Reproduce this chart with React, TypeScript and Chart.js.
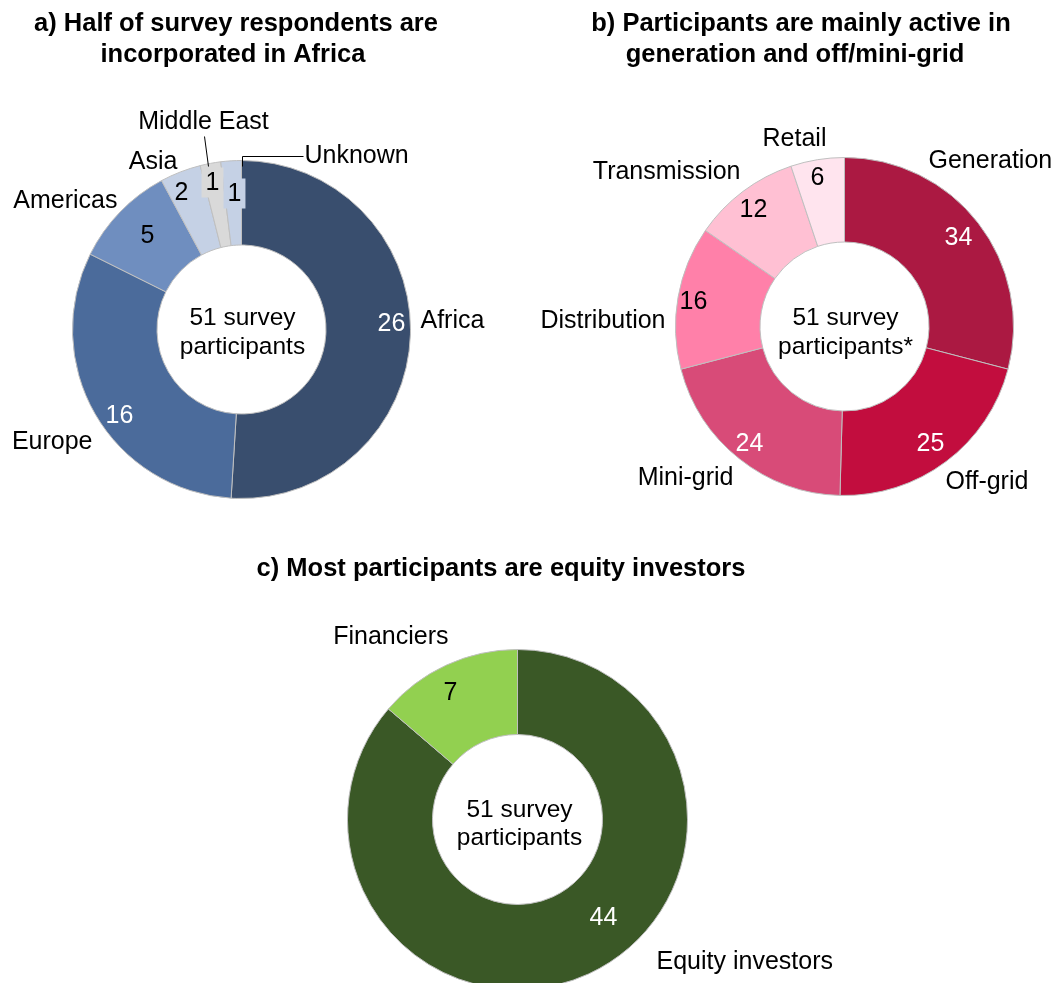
import React, { useEffect, useRef } from "react";
import { Chart, registerables } from "chart.js";

Chart.register(...registerables);

const FONT = '"Liberation Sans", Arial, Helvetica, sans-serif';
const SURVEY_TOTAL = 51;

// ---- Data ----
const regionCategories = ["Africa", "Europe", "Americas", "Asia", "Middle East", "Unknown"];
const regionValues = [26, 16, 5, 2, 1, 1];
const regionColors = ["#394E6E", "#4B6B9B", "#6F8EBF", "#C5D1E5", "#D9D9D9", "#C5D1E5"];
const regionValueColors = ["#FFFFFF", "#FFFFFF", "#000000", "#000000", "#000000", "#000000"];

const activityCategories = ["Generation", "Off-grid", "Mini-grid", "Distribution", "Transmission", "Retail"];
const activityValues = [34, 25, 24, 16, 12, 6];
const activityColors = ["#AB1942", "#C20D3E", "#D84B78", "#FF80A9", "#FFC0D3", "#FFE4EE"];
const activityValueColors = ["#FFFFFF", "#FFFFFF", "#FFFFFF", "#000000", "#000000", "#000000"];

const investorCategories = ["Equity investors", "Financiers"];
const investorValues = [44, 7];
const investorColors = ["#3A5826", "#92D050"];
const investorValueColors = ["#FFFFFF", "#000000"];

const titleA = ["a) Half of survey respondents are", "incorporated in Africa"];
const titleB = ["b) Participants are mainly active in", "generation and off/mini-grid"];
const titleC = ["c) Most participants are equity investors"];

const centerA = [`${SURVEY_TOTAL} survey`, "participants"];
const centerB = [`${SURVEY_TOTAL} survey`, "participants*"];
const centerC = [`${SURVEY_TOTAL} survey`, "participants"];

// ---- Layout (label placement relative to doughnut centre) ----
type CatPos = { dx: number; dy: number; align: CanvasTextAlign };
type ValPos = { dx: number; dy: number; box?: boolean };
type Leader = { pts: [number, number][] };

interface PanelSpec {
  left: number;
  top: number;
  w: number;
  h: number;
  padding: { left: number; right: number; top: number; bottom: number };
  categories: string[];
  values: number[];
  colors: string[];
  valueColors: string[];
  title: string[];
  titleX: number[];
  titleY: number;
  center: string[];
  centerPos: [number, number][];
  catPos: CatPos[];
  valPos: ValPos[];
  leaders: Leader[];
}

const panels: PanelSpec[] = [
  {
    left: 0,
    top: 0,
    w: 520,
    h: 540,
    padding: { left: 72, right: 109, top: 160, bottom: 41 },
    categories: regionCategories,
    values: regionValues,
    colors: regionColors,
    valueColors: regionValueColors,
    title: titleA,
    titleX: [236, 233],
    titleY: 31,
    center: centerA,
    centerPos: [[1, -11], [1, 18]],
    catPos: [
      { dx: 179, dy: -8, align: "left" },
      { dx: -149, dy: 113, align: "right" },
      { dx: -124, dy: -128, align: "right" },
      { dx: -64, dy: -167, align: "right" },
      { dx: -38, dy: -207, align: "center" },
      { dx: 63, dy: -173, align: "left" },
    ],
    valPos: [
      { dx: 150, dy: -6 },
      { dx: -122, dy: 86 },
      { dx: -94, dy: -94 },
      { dx: -60, dy: -137 },
      { dx: -29, dy: -147, box: true },
      { dx: -7, dy: -136, box: true },
    ],
    leaders: [
      { pts: [[-38, -194], [-34, -164]] },
      { pts: [[0, -164], [0, -174], [61, -174]] },
    ],
  },
  {
    left: 520,
    top: 0,
    w: 537,
    h: 540,
    padding: { left: 155, right: 43, top: 157, bottom: 44 },
    categories: activityCategories,
    values: activityValues,
    colors: activityColors,
    valueColors: activityValueColors,
    title: titleB,
    titleX: [801 - 520, 795 - 520],
    titleY: 31,
    center: centerB,
    centerPos: [[1, -8], [1, 21]],
    catPos: [
      { dx: 84, dy: -165, align: "left" },
      { dx: 101, dy: 156, align: "left" },
      { dx: -111, dy: 152, align: "right" },
      { dx: -179, dy: -5, align: "right" },
      { dx: -104, dy: -154, align: "right" },
      { dx: -50, dy: -187, align: "center" },
    ],
    valPos: [
      { dx: 114, dy: -89 },
      { dx: 86, dy: 117 },
      { dx: -95, dy: 117 },
      { dx: -151, dy: -25 },
      { dx: -91, dy: -117 },
      { dx: -27, dy: -149 },
    ],
    leaders: [],
  },
  {
    left: 0,
    top: 540,
    w: 1057,
    h: 460,
    padding: { left: 347, right: 369, top: 109, bottom: 10 },
    categories: investorCategories,
    values: investorValues,
    colors: investorColors,
    valueColors: investorValueColors,
    title: titleC,
    titleX: [501],
    titleY: 36,
    center: centerC,
    centerPos: [[2, -9], [2, 19]],
    catPos: [
      { dx: 139, dy: 143, align: "left" },
      { dx: -69, dy: -182, align: "right" },
    ],
    valPos: [
      { dx: 86, dy: 98 },
      { dx: -67, dy: -127 },
    ],
    leaders: [],
  },
];

function makeLabelPlugin(spec: PanelSpec) {
  return {
    id: "doughnutLabels",
    afterDatasetsDraw(chart: any) {
      const arcs = chart.getDatasetMeta(0).data as any[];
      if (!arcs.length) return;
      const cx = arcs[0].x;
      const cy = arcs[0].y;
      const ctx: CanvasRenderingContext2D = chart.ctx;
      ctx.save();

      // Title
      ctx.fillStyle = "#000";
      ctx.font = `bold 25.5px ${FONT}`;
      ctx.textAlign = "center";
      ctx.textBaseline = "alphabetic";
      spec.title.forEach((line, i) => {
        ctx.fillText(line, spec.titleX[i], spec.titleY + i * 31);
      });

      // Leader lines
      ctx.strokeStyle = "#000";
      ctx.lineWidth = 1;
      spec.leaders.forEach((ld) => {
        ctx.beginPath();
        ld.pts.forEach(([x, y], i) => {
          const px = Math.round(cx + x) + 0.5;
          const py = Math.round(cy + y) + 0.5;
          if (i === 0) ctx.moveTo(px, py);
          else ctx.lineTo(px, py);
        });
        ctx.stroke();
      });

      ctx.textBaseline = "middle";
      ctx.font = `25px ${FONT}`;

      // Category labels
      spec.categories.forEach((cat, i) => {
        const p = spec.catPos[i];
        ctx.textAlign = p.align;
        ctx.fillStyle = "#000";
        ctx.fillText(cat, cx + p.dx, cy + p.dy);
      });

      // Value labels
      ctx.textAlign = "center";
      spec.values.forEach((v, i) => {
        const p = spec.valPos[i];
        const txt = String(v);
        const x = cx + p.dx;
        const y = cy + p.dy;
        if (p.box) {
          const w = ctx.measureText(txt).width + 8;
          ctx.fillStyle = spec.colors[i];
          ctx.fillRect(x - w / 2, y - 15, w, 30);
        }
        ctx.fillStyle = spec.valueColors[i];
        ctx.fillText(txt, x, y + 1);
      });

      // Centre text
      ctx.font = `24.5px ${FONT}`;
      ctx.fillStyle = "#000";
      spec.center.forEach((line, i) => {
        const [dx, dy] = spec.centerPos[i];
        ctx.fillText(line, cx + dx, cy + dy);
      });

      ctx.restore();
    },
  };
}

function DoughnutPanel({ spec }: { spec: PanelSpec }) {
  const ref = useRef<HTMLCanvasElement>(null);
  useEffect(() => {
    if (!ref.current) return;
    const chart = new Chart(ref.current, {
      type: "doughnut",
      data: {
        labels: spec.categories,
        datasets: [
          {
            data: spec.values,
            backgroundColor: spec.colors,
            borderColor: "#BFBFBF",
            borderWidth: 1,
          },
        ],
      },
      options: {
        responsive: false,
        animation: false,
        cutout: "50%",
        events: [],
        layout: { padding: spec.padding },
        plugins: {
          legend: { display: false },
          tooltip: { enabled: false },
          title: { display: false },
        },
      },
      plugins: [makeLabelPlugin(spec)],
    });
    return () => chart.destroy();
  }, [spec]);
  return (
    <canvas
      ref={ref}
      width={spec.w}
      height={spec.h}
      style={{ position: "absolute", left: spec.left, top: spec.top, width: spec.w, height: spec.h }}
    />
  );
}

export default function App() {
  return (
    <div
      style={{
        position: "fixed",
        left: 0,
        top: 0,
        width: 1057,
        height: 983,
        overflow: "hidden",
        background: "#FFFFFF",
      }}
    >
      {panels.map((p, i) => (
        <DoughnutPanel key={i} spec={p} />
      ))}
    </div>
  );
}
